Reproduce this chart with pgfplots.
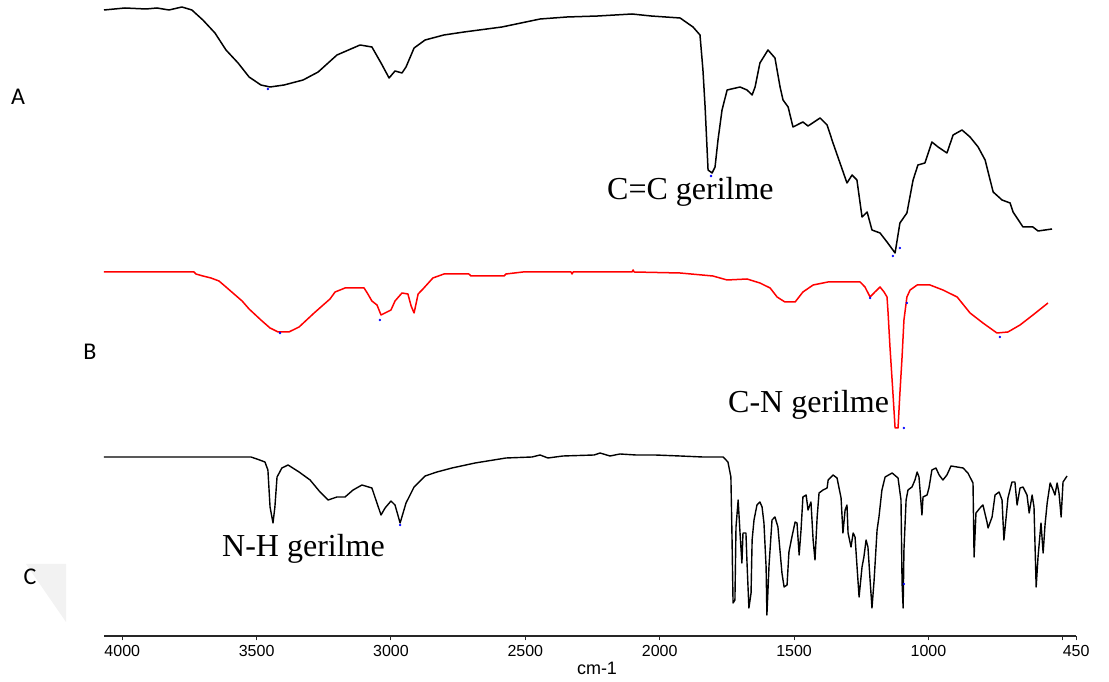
\documentclass[border=0pt]{standalone}
\usepackage{pgfplots}
\pgfplotsset{compat=1.18}
\usepackage{fontspec}
\setmainfont{Liberation Serif}
\newfontfamily\panelfont{Carlito}
\newfontfamily\scalefont{Liberation Sans}

% FT-IR spectra (offset traces); x in wavenumber (cm-1), y in drawing units from the top
\pgfplotstableread{
x y
4068 10
3990 8
3912 9
3871 8
3826 10
3778 7
3741 10
3700 20
3655 33
3614 50
3569 63
3528 77
3484 85
3450 87
3398 85
3327 80
3271 72
3201 55
3115 45
3071 47
3037 63
3007 78
2985 71
2959 73
2944 67
2914 48
2873 40
2803 35
2728 32
2587 27
2445 19
2345 17
2230 16
2103 14
2032 16
1924 18
1876 27
1850 35
1839 70
1831 107
1820 170
1805 173
1794 167
1783 140
1768 110
1749 90
1701 87
1675 90
1656 95
1645 87
1627 63
1597 50
1571 58
1552 87
1541 100
1522 107
1504 127
1467 122
1448 126
1403 118
1377 125
1355 143
1329 163
1303 183
1284 175
1266 180
1247 217
1228 212
1210 230
1180 233
1154 242
1124 253
1106 223
1080 213
1057 180
1039 165
1013 163
987 142
964 147
931 153
908 135
875 130
845 137
815 147
789 160
759 192
726 200
696 203
685 212
648 227
611 227
592 231
540 229
}\specA

\pgfplotstableread{
x y
4068 272
3733 272
3726 274
3700 276
3670 278
3640 281
3614 287
3584 294
3554 301
3528 309
3484 320
3450 328
3420 332
3380 332
3342 327
3286 313
3227 299
3208 292
3171 288
3100 288
3086 294
3071 301
3052 305
3037 315
3022 313
3000 310
2985 301
2959 293
2937 294
2925 306
2914 313
2899 294
2881 289
2844 278
2803 274
2710 274
2702 276
2579 276
2572 274
2509 272
2330 272
2326 274
2322 272
2103 272
2099 270
2095 272
1924 273
1802 276
1749 280
1675 279
1627 283
1589 288
1563 297
1534 302
1496 302
1467 292
1429 285
1374 282
1254 282
1236 287
1217 297
1199 292
1180 287
1165 292
1154 297
1150 313
1143 347
1132 393
1124 428
1113 428
1106 393
1098 357
1091 320
1080 297
1068 290
1042 285
994 285
946 290
893 297
845 313
797 323
745 333
704 332
659 325
611 315
555 303
}\specB

\pgfplotstableread{
x y
4068 457
3521 457
3499 459
3469 462
3458 470
3450 507
3439 523
3432 507
3424 477
3406 468
3383 465
3342 472
3301 480
3264 492
3234 500
3201 497
3171 497
3141 490
3108 485
3071 488
3056 500
3037 515
3022 508
3000 501
2985 505
2966 523
2944 503
2914 487
2873 476
2829 472
2773 468
2687 463
2572 458
2475 457
2445 455
2416 458
2360 456
2244 455
2222 453
2185 456
2148 454
2088 455
2017 455
1924 456
1839 457
1764 457
1746 462
1735 477
1731 535
1727 603
1720 600
1716 527
1708 500
1701 533
1694 563
1690 533
1679 533
1675 563
1668 608
1660 593
1656 540
1649 520
1638 505
1627 502
1619 507
1612 523
1604 567
1601 615
1593 565
1582 520
1571 517
1560 527
1545 573
1537 587
1526 585
1519 552
1508 537
1496 522
1489 523
1481 555
1474 530
1467 497
1455 495
1448 510
1437 502
1429 540
1422 560
1414 517
1407 493
1392 490
1377 488
1373 480
1355 475
1340 478
1325 498
1318 533
1310 510
1303 505
1299 533
1288 547
1280 533
1273 537
1266 565
1258 597
1247 567
1240 557
1232 540
1225 547
1217 580
1210 608
1202 580
1191 530
1184 517
1173 490
1161 477
1135 473
1113 478
1102 500
1098 583
1094 608
1091 550
1083 500
1076 490
1061 487
1050 480
1042 472
1035 477
1024 515
1020 497
1005 495
998 488
987 470
972 468
960 475
946 480
931 475
916 466
893 467
871 468
853 473
834 483
830 557
823 513
808 508
797 505
782 522
778 528
763 517
752 495
737 492
726 500
719 540
711 518
704 498
689 482
678 482
670 505
659 488
648 487
633 495
625 513
614 495
607 507
599 587
592 557
581 523
573 553
566 525
558 503
547 483
536 490
529 495
521 483
514 493
506 517
499 482
484 476
}\specC

% peak-pick markers
\pgfplotstableread{
x y
3458 89
1809 176
1132 256
1106 248
3413 333
3041 320
1217 298
1091 428
1080 303
734 337
2966 525
1091 584
}\peaks

\begin{document}
\begin{tikzpicture}
\path[use as bounding box] (0pt,0pt) rectangle (1109pt,682pt);
\fill[black!5] (26pt,118pt) -- (66pt,118pt) -- (66pt,60pt) -- cycle;
\begin{axis}[
  at={(590.1pt,364pt)}, anchor=center,
  scale only axis, width=972.2pt, height=636pt,
  x dir=reverse, xmin=450, xmax=4068,
  ymin=0, ymax=636, enlargelimits=false,
  y filter/.expression={636-y},
  axis x line=bottom, axis y line=none,
  axis line style={-, black!85, line width=1.3pt},
  xtick={4000,3500,3000,2500,2000,1500,1000,450},
  xticklabels={4000,3500,3000,2500,2000,1500,1000,450},
  extra x ticks={500}, extra x tick labels={},
  tick align=outside, major tick length=4.5pt,
  every tick/.style={black!85, line width=1pt},
  xticklabel style={font=\scalefont\fontsize{16}{16}\selectfont, anchor=north, inner sep=0pt, yshift=-5pt},
  clip=false,
]
\addplot[black, line width=1.5pt, line join=round] table {\specA};
\addplot[red, line width=1.5pt, line join=round] table {\specB};
\addplot[black, line width=1.4pt, line join=round] table {\specC};
\addplot[only marks, mark=*, mark size=1pt, blue] table {\peaks};
\end{axis}
\node[font=\scalefont\fontsize{18}{18}\selectfont] at (597pt,14pt) {cm-1};
\node[anchor=base west, inner sep=0pt, font=\fontsize{32}{32}\selectfont] at (607pt,482pt) {C=C gerilme};
\node[anchor=base west, inner sep=0pt, font=\fontsize{32}{32}\selectfont] at (728pt,269pt) {C-N gerilme};
\node[anchor=base west, inner sep=0pt, font=\fontsize{32}{32}\selectfont] at (222pt,125pt) {N-H gerilme};
\node[font=\panelfont\fontsize{24}{24}\selectfont] at (18pt,585pt) {A};
\node[font=\panelfont\fontsize{24}{24}\selectfont] at (90pt,330pt) {B};
\node[font=\panelfont\fontsize{24}{24}\selectfont] at (30pt,105pt) {C};
\end{tikzpicture}
\end{document}
